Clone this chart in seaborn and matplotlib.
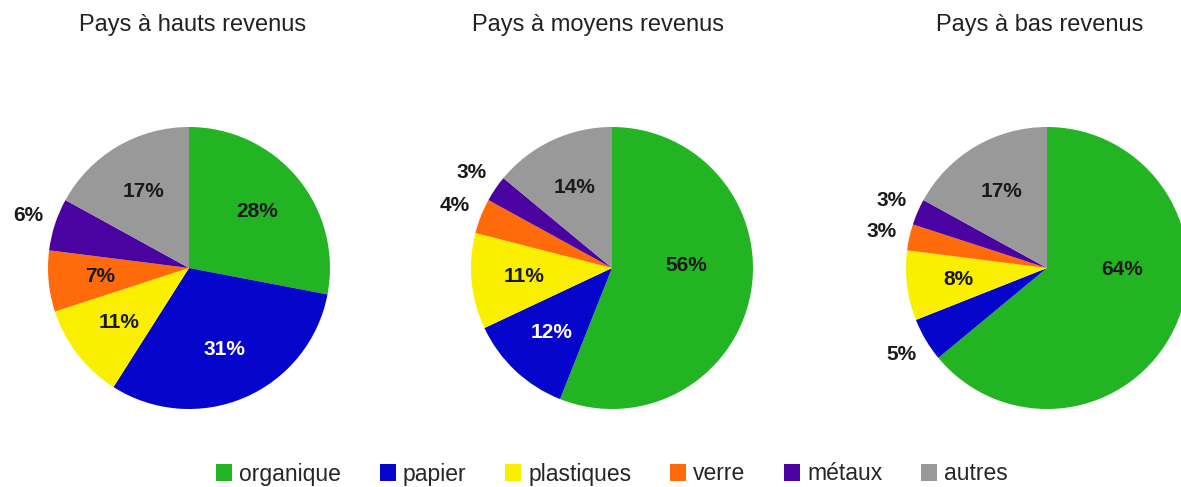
import numpy as np
import matplotlib
matplotlib.use("Agg")
import matplotlib.pyplot as plt
import seaborn as sns
from matplotlib.patches import Patch

# --- data ---
categories = ["organique", "papier", "plastiques", "verre", "métaux", "autres"]
titles = ["Pays à hauts revenus", "Pays à moyens revenus", "Pays à bas revenus"]
high_income = [28, 31, 11, 7, 6, 17]
middle_income = [56, 12, 11, 4, 3, 14]
low_income = [64, 5, 8, 3, 3, 17]
colors = ["#22b422", "#0505cc", "#fbef00", "#ff6a0a", "#4a03a0", "#999999"]

sns.set_theme(style="white")
plt.rcParams["font.family"] = ["Liberation Sans", "DejaVu Sans"]

W, H = 1181, 487
fig = plt.figure(figsize=(W / 100, H / 100), dpi=100)
palette = sns.color_palette(colors)

# layout (pixels)
centers_x = [189, 612, 1047]
title_x = [193, 598, 1040]
cy, rad, pad = 268, 141, 1.3

for k, (title, vals) in enumerate(zip(titles, [high_income, middle_income, low_income])):
    half = rad * pad
    ax = fig.add_axes([(centers_x[k] - half) / W, (H - cy - half) / H, 2 * half / W, 2 * half / H])
    wedges, _ = ax.pie(vals, colors=palette, startangle=90, counterclock=False,
                       wedgeprops=dict(linewidth=0))
    ax.set_xlim(-pad, pad)
    ax.set_ylim(-pad, pad)
    ax.set_aspect("equal")

    # percentage labels: small slices go outside
    for w, v, cat in zip(wedges, vals, categories):
        mid = (w.theta1 + w.theta2) / 2
        if w.theta2 - w.theta1 > 180:
            # very large slices: label sits nearer the horizontal
            mid = mid * 0.2 + 4
        ang = np.deg2rad(mid)
        outside = v <= 6
        r = 1.2 if outside else (0.53 if v > 50 else 0.63)
        color = "white" if (cat == "papier" and not outside) else "#1a1a1a"
        ax.text(r * np.cos(ang), r * np.sin(ang), f"{v}%", ha="center", va="center",
                fontsize=15, fontweight="bold", color=color)

    fig.text(title_x[k] / W, 1 - 25 / H, title, ha="center", va="center",
             fontsize=17, color="#222222")

handles = [Patch(facecolor=c, edgecolor="none", label=cat) for c, cat in zip(palette, categories)]
fig.legend(handles=handles, loc="center", bbox_to_anchor=(612 / W, 1 - 474 / H), ncol=6,
           frameon=False, fontsize=16.5, handlelength=0.7, handleheight=0.7,
           handletextpad=0.3, columnspacing=1.7)

fig.savefig("out.png", dpi=100)
